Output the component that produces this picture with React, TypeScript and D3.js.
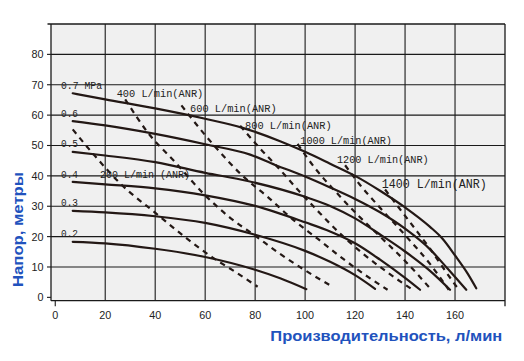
import React from 'react';
import * as d3 from 'd3';

// ---------- data ----------
const xTicks = [0, 20, 40, 60, 80, 100, 120, 140, 160];
const yTicks = [0, 10, 20, 30, 40, 50, 60, 70, 80];

// pressure curves (flow l/min, head m)
const curve07: [number, number][] = [[7, 67.2], [20, 65.2], [40, 62.2], [60, 58.8], [75, 55.8], [90, 51.4], [100, 47.9], [110, 44], [120, 40], [130, 35.1], [140, 29.6], [150, 23.2], [155, 19.3], [160, 13.8], [165, 7.9], [168.5, 3]];
const curve06: [number, number][] = [[7, 58], [20, 56.6], [40, 53.8], [60, 50.4], [78, 47], [88, 43.6], [100, 39.8], [110, 36.2], [120, 32.4], [130, 28], [140, 22.6], [150, 15.8], [157, 9.5], [164.5, 2.5]];
const curve05: [number, number][] = [[7, 47.9], [20, 46.7], [40, 44.5], [60, 41], [77, 38.3], [100, 33.1], [110, 30.1], [120, 26], [130, 20.7], [140, 15.1], [150, 8.7], [158, 2.5]];
const curve04: [number, number][] = [[7, 38], [20, 37.2], [40, 35.9], [60, 33.6], [80, 30.1], [100, 24.7], [110, 21.7], [120, 17.8], [130, 12.4], [140, 6.4], [146, 2.5]];
const curve03: [number, number][] = [[7, 28.5], [20, 28], [40, 26.7], [60, 24.5], [80, 20.6], [100, 15.3], [110, 11.7], [120, 7.3], [128, 2.8]];
const curve02: [number, number][] = [[7, 18.3], [20, 17.8], [40, 16], [60, 13.3], [80, 9.1], [90, 6.3], [100.5, 2.7]];
const pressureCurves = [curve02, curve03, curve04, curve05, curve06, curve07];
const pressureLabels = ['0.2', '0.3', '0.4', '0.5', '0.6', '0.7 MPa'];

// air consumption lines (dashed)
const air200: [number, number][] = [[7, 55.3], [15, 47.4], [26, 37.5], [41, 27.2], [52, 19.8], [63, 13.1], [72, 8.4], [81, 3.5]];
const air400: [number, number][] = [[28, 65.2], [37, 54.3], [48, 44.5], [60, 33.6], [70, 26.2], [80, 20.3], [90, 14.3], [100, 8.9], [111, 3.5]];
const air600: [number, number][] = [[50.5, 63.2], [54, 59.5], [64, 49.6], [75, 40], [85, 33.1], [95, 25.7], [105, 19.3], [115, 12.8], [124, 7.4], [133, 2.5]];
const air800: [number, number][] = [[74, 56.5], [82, 49], [90, 42], [97, 35.5], [105, 28.5], [114, 21], [123, 14.5], [133, 8.2], [143, 2.5]];
const air1000: [number, number][] = [[97, 50.5], [104, 42.5], [112, 35], [120, 28], [130, 20], [140, 12], [150.5, 2.5]];
const air1200: [number, number][] = [[116, 43.5], [122, 37], [130, 29.5], [140, 20.5], [150, 11], [157.5, 2.5]];
const air1400: [number, number][] = [[132, 35.5], [138, 29], [145, 21.5], [150, 16], [155, 10], [161.5, 2.5]];
const airLines = [air200, air400, air600, air800, air1000, air1200, air1400];
const airLabels = ['200 L/min (ANR)', '400 L/min(ANR)', '600 L/min(ANR)', '800 L/min(ANR)', '1000 L/min(ANR)', '1200 L/min(ANR)', '1400 L/min(ANR)'];

const xTitle = 'Производительность, л/мин';
const yTitle = 'Напор, метры';

// ---------- layout ----------
const W = 524, H = 361;
const box = { left: 51, right: 505, top: 24, bottom: 300.7 };
const x = d3.scaleLinear().domain([-1.7, 180]).range([box.left, box.right]);
const y = d3.scaleLinear().domain([-1.1, 90]).range([box.bottom, box.top]);

// label anchors in pixels: [x, baseline, width]
const pressureLabelPos: [number, number, number][] = [
  [61, 236.7, 17], [61, 206, 17], [61, 178, 17], [61, 146.8, 17], [61, 117.2, 17], [61, 89.3, 41],
];
const airLabelPos: [number, number, number, number][] = [
  [100, 178, 90, 11.6], [116.7, 96.5, 86.6, 11.6], [190, 111.5, 86.7, 11.6], [245, 129, 86.7, 11.6],
  [300.3, 143.5, 91.7, 11.6], [337, 163, 91.7, 11.6], [381.7, 188, 105, 13.2],
];

const ink = '#231815';
const blue = '#2152bd';

export default function App() {
  const line = d3.line<[number, number]>().x(d => x(d[0])).y(d => y(d[1])).curve(d3.curveMonotoneX);
  return (
    <svg width={W} height={H} style={{ position: 'absolute', left: 0, top: 0, background: '#fff' }}>
      <rect x={box.left} y={box.top} width={box.right - box.left} height={box.bottom - box.top} fill="#f0f0f0" />
      {yTicks.filter(t => t > 0).map(t => (
        <line key={'h' + t} x1={box.left} x2={box.right} y1={y(t)} y2={y(t)} stroke="#1a1a1a" strokeWidth={1.1} />
      ))}
      {xTicks.filter(t => t > 0).map(t => (
        <line key={'v' + t} x1={x(t)} x2={x(t)} y1={box.top} y2={box.bottom} stroke="#1a1a1a" strokeWidth={1.1} />
      ))}
      <line x1={47.5} x2={box.right} y1={box.top} y2={box.top} stroke="#1a1a1a" strokeWidth={1.3} />
      <line x1={box.left} x2={box.right} y1={box.bottom} y2={box.bottom} stroke="#1a1a1a" strokeWidth={1.3} />
      <line x1={box.left} x2={box.left} y1={box.top} y2={box.bottom} stroke="#1a1a1a" strokeWidth={1.3} />
      <line x1={box.right} x2={box.right} y1={box.top} y2={box.bottom + 5.5} stroke="#1a1a1a" strokeWidth={1.3} />
      {yTicks.map(t => (
        <line key={'yt' + t} x1={47} x2={box.left} y1={y(t)} y2={y(t)} stroke="#1a1a1a" strokeWidth={1.1} />
      ))}
      <line x1={x(0)} x2={x(0)} y1={box.bottom} y2={box.bottom + 5.5} stroke="#1a1a1a" strokeWidth={1.1} />
      {yTicks.map(t => (
        <text key={'yl' + t} x={43.5} y={y(t)} dy="0.36em" textAnchor="end" fontFamily="'Liberation Sans', Arial, sans-serif" fontSize={10.8} fill="#222">{t}</text>
      ))}
      {xTicks.map(t => (
        <text key={'xl' + t} x={x(t)} y={318.5} textAnchor="middle" fontFamily="'Liberation Sans', Arial, sans-serif" fontSize={10.8} fill="#222">{t}</text>
      ))}
      {airLines.map((d, i) => (
        <path key={'a' + i} d={line(d) || ''} fill="none" stroke={ink} strokeWidth={2.2} strokeDasharray="5.5 5" />
      ))}
      {pressureCurves.map((d, i) => (
        <path key={'p' + i} d={line(d) || ''} fill="none" stroke={ink} strokeWidth={2.2} strokeLinecap="round" />
      ))}
      {pressureLabels.map((s, i) => (
        <text key={'pl' + i} x={pressureLabelPos[i][0]} y={pressureLabelPos[i][1]} textLength={pressureLabelPos[i][2]} lengthAdjust="spacingAndGlyphs"
          fontFamily="'Liberation Mono', 'DejaVu Sans Mono', monospace" fontSize={11.5} fill="#222">{s}</text>
      ))}
      {airLabels.map((s, i) => (
        <text key={'al' + i} x={airLabelPos[i][0]} y={airLabelPos[i][1]} textLength={airLabelPos[i][2]} lengthAdjust="spacingAndGlyphs"
          fontFamily="'Liberation Mono', 'DejaVu Sans Mono', monospace" fontSize={airLabelPos[i][3]} fill="#222">{s}</text>
      ))}
      <text x={270.3} y={341} textLength={232} lengthAdjust="spacingAndGlyphs" fontFamily="'Liberation Sans', Arial, sans-serif" fontWeight="bold" fontSize={15.5} fill={blue}>{xTitle}</text>
      <text transform="translate(23,229.5) rotate(-90)" textAnchor="middle" textLength={115} lengthAdjust="spacingAndGlyphs" fontFamily="'Liberation Sans', Arial, sans-serif" fontWeight="bold" fontSize={15.5} fill={blue}>{yTitle}</text>
    </svg>
  );
}
